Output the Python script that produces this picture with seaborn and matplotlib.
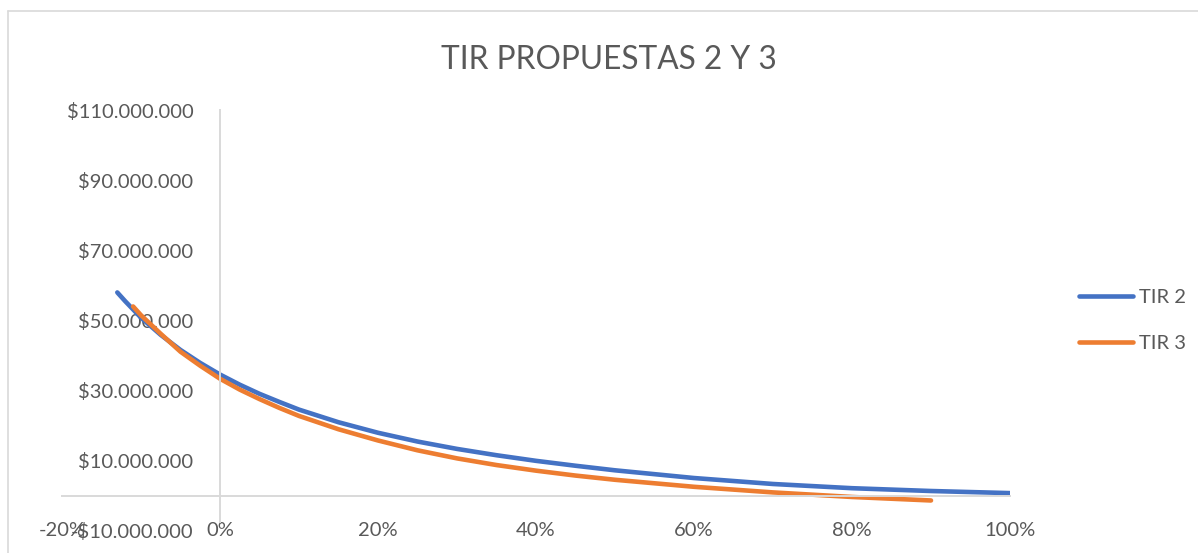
import matplotlib
matplotlib.use("Agg")
import matplotlib.pyplot as plt
from matplotlib.lines import Line2D
import seaborn as sns
import pandas as pd

# values (rate as fraction, NPV in pesos)
tasa_tir2 = [-0.13, -0.12, -0.10, -0.075, -0.05, -0.025, 0.00, 0.025, 0.05, 0.075, 0.10,
             0.15, 0.20, 0.25, 0.30, 0.35, 0.40, 0.45, 0.50, 0.60, 0.70, 0.80, 0.90, 1.00]
vpn_tir2 = [58.0e6, 55.5e6, 50.8e6, 45.9e6, 41.6e6, 37.9e6, 34.6e6, 31.7e6, 29.1e6, 26.8e6, 24.6e6,
            21.0e6, 18.0e6, 15.5e6, 13.4e6, 11.6e6, 10.0e6, 8.6e6, 7.3e6, 5.1e6, 3.4e6, 2.2e6, 1.4e6, 0.8e6]

tasa_tir3 = [-0.11, -0.10, -0.075, -0.05, -0.025, 0.00, 0.025, 0.05, 0.075, 0.10,
             0.15, 0.20, 0.25, 0.30, 0.35, 0.40, 0.45, 0.50, 0.60, 0.70, 0.80, 0.90]
vpn_tir3 = [54.0e6, 51.5e6, 46.2e6, 41.1e6, 37.1e6, 33.4e6, 30.3e6, 27.6e6, 25.1e6, 22.8e6,
            19.0e6, 15.8e6, 13.0e6, 10.7e6, 8.8e6, 7.2e6, 5.8e6, 4.6e6, 2.6e6, 1.0e6, -0.3e6, -1.3e6]

series_names = ["TIR 2", "TIR 3"]
series_colors = ["#4472C4", "#ED7D31"]

y_ticks = [-10e6, 10e6, 30e6, 50e6, 70e6, 90e6, 110e6]
x_ticks = [-0.2, 0.0, 0.2, 0.4, 0.6, 0.8, 1.0]

title = "TIR PROPUESTAS 2 Y 3"


def pesos(v):
    s = "{:,.0f}".format(abs(v)).replace(",", ".")
    return ("-$" if v < 0 else "$") + s


df = pd.concat([
    pd.DataFrame({"tasa": tasa_tir2, "vpn": vpn_tir2, "serie": series_names[0]}),
    pd.DataFrame({"tasa": tasa_tir3, "vpn": vpn_tir3, "serie": series_names[1]}),
])

sns.set_theme(style="white")
plt.rcParams['font.family'] = ['Lato', 'DejaVu Sans']
text_color = "#595959"
axis_color = "#D9D9D9"

fig = plt.figure(figsize=(11.98, 5.53), dpi=100)
ax = fig.add_axes([62 / 1198, 1 - 531 / 553, (1010 - 62) / 1198, (531 - 110) / 553])

sns.lineplot(data=df, x="tasa", y="vpn", hue="serie", palette=series_colors,
             estimator=None, sort=False, linewidth=3.3, ax=ax,
             solid_capstyle="round", solid_joinstyle="round")

ax.set_xlim(-0.2, 1.0)
ax.set_ylim(-10e6, 110e6)

for side in ["top", "right"]:
    ax.spines[side].set_visible(False)
ax.spines["left"].set_position(("data", 0))
ax.spines["bottom"].set_position(("data", 0))
ax.spines["left"].set_bounds(-7.5e6, 110e6)
for side in ["left", "bottom"]:
    ax.spines[side].set_color(axis_color)
    ax.spines[side].set_linewidth(1.4)

ax.set_yticks(y_ticks)
ax.set_yticklabels([pesos(v) for v in y_ticks])
ax.set_xticks(x_ticks)
ax.set_xticklabels(["{:.0f}%".format(v * 100) for v in x_ticks])
ax.tick_params(axis="y", length=0, pad=19, labelsize=14.5, labelcolor=text_color)
ax.tick_params(axis="x", length=0, pad=18.5, labelsize=14.5, labelcolor=text_color)
ax.set_xlabel("")
ax.set_ylabel("")

ax.legend(loc="upper left", bbox_to_anchor=(1069 / 1198, 1 - 279 / 553),
          bbox_transform=fig.transFigure, frameon=False, fontsize=14.5,
          labelcolor=text_color, handlelength=2.7, handletextpad=0.3,
          labelspacing=1.45, borderpad=0)

fig.text(609 / 1198, 1 - 60 / 553, title, ha="center", va="center",
         fontsize=22.8, color=text_color)

# outer chart border (only left and top edges visible in the crop)
fig.add_artist(Line2D([8 / 1198, 8 / 1198], [0, 1 - 11 / 553], transform=fig.transFigure,
                      color=axis_color, linewidth=1.2))
fig.add_artist(Line2D([8 / 1198, 1], [1 - 11 / 553, 1 - 11 / 553], transform=fig.transFigure,
                      color=axis_color, linewidth=1.2))

fig.savefig("out.png", dpi=100)
